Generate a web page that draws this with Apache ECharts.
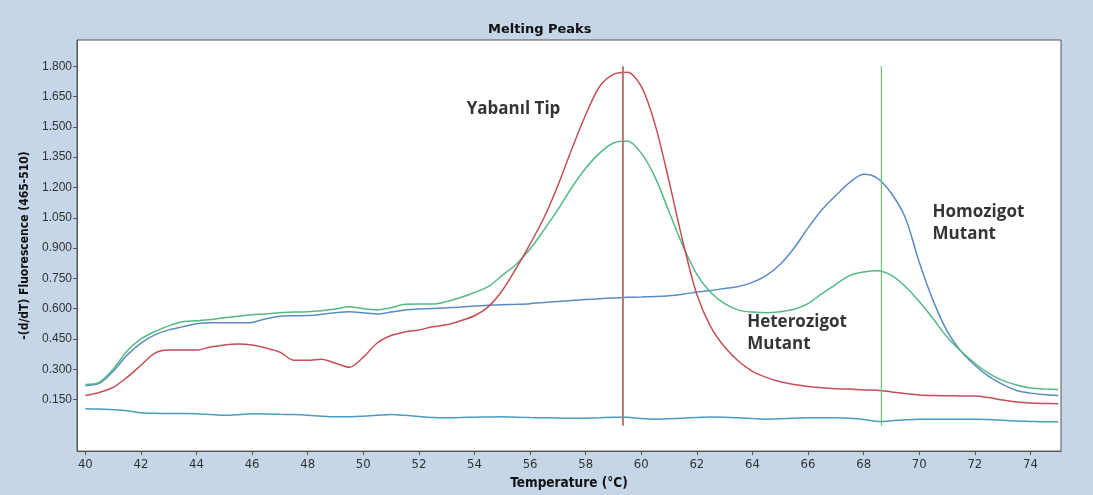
<!DOCTYPE html>
<html>
<head>
<meta charset="utf-8">
<script src="https://cdn.jsdelivr.net/npm/echarts@6/dist/echarts.min.js"></script>
<style>
  html, body { margin: 0; padding: 0; background: #c5d6e8; }
  #chart { width: 1093px; height: 495px; }
</style>
</head>
<body>
<div id="chart"></div>
<script>
// temperature (°C)
var temps = [40, 40.5, 41, 41.5, 42, 42.5, 43, 43.5, 44, 44.5, 45, 45.5, 46, 46.5, 47, 47.5, 48, 48.5, 49, 49.5,
  50, 50.5, 51, 51.5, 52, 52.5, 53, 53.5, 54, 54.5, 55, 55.5, 56, 56.5, 57, 57.5, 58, 58.5, 59, 59.5,
  60, 60.5, 61, 61.5, 62, 62.5, 63, 63.5, 64, 64.5, 65, 65.5, 66, 66.5, 67, 67.5, 68, 68.5, 69, 69.5,
  70, 70.5, 71, 71.5, 72, 72.5, 73, 73.5, 74, 74.5, 75];

// -(d/dT) fluorescence
var wildType = [0.17, 0.185, 0.21, 0.26, 0.32, 0.38, 0.395, 0.395, 0.395, 0.41, 0.42, 0.425, 0.42, 0.405, 0.385, 0.345, 0.345, 0.35, 0.33, 0.31,
  0.36, 0.43, 0.467, 0.485, 0.495, 0.51, 0.52, 0.54, 0.565, 0.61, 0.69, 0.80, 0.92, 1.05, 1.21, 1.39, 1.56, 1.70, 1.76, 1.77,
  1.70, 1.51, 1.23, 0.93, 0.67, 0.51, 0.41, 0.34, 0.29, 0.26, 0.238, 0.225, 0.215, 0.208, 0.204, 0.202, 0.198, 0.196, 0.188, 0.18,
  0.173, 0.17, 0.169, 0.168, 0.168, 0.16, 0.148, 0.138, 0.133, 0.131, 0.13];
var hetero = [0.225, 0.235, 0.30, 0.39, 0.45, 0.487, 0.515, 0.535, 0.54, 0.546, 0.555, 0.563, 0.57, 0.575, 0.58, 0.583, 0.585, 0.59, 0.598, 0.61,
  0.60, 0.595, 0.605, 0.622, 0.623, 0.623, 0.635, 0.655, 0.68, 0.71, 0.765, 0.82, 0.895, 0.99, 1.09, 1.20, 1.295, 1.37, 1.42, 1.43,
  1.37, 1.25, 1.08, 0.91, 0.77, 0.68, 0.625, 0.593, 0.583, 0.58, 0.585, 0.597, 0.625, 0.675, 0.72, 0.765, 0.782, 0.788, 0.765, 0.71,
  0.635, 0.55, 0.46, 0.39, 0.33, 0.28, 0.245, 0.222, 0.207, 0.203, 0.2];
var homo = [0.22, 0.23, 0.29, 0.37, 0.43, 0.47, 0.495, 0.51, 0.525, 0.53, 0.53, 0.53, 0.532, 0.55, 0.562, 0.565, 0.566, 0.572, 0.58, 0.585,
  0.58, 0.574, 0.583, 0.594, 0.598, 0.601, 0.604, 0.608, 0.613, 0.617, 0.62, 0.622, 0.625, 0.63, 0.636, 0.641, 0.645, 0.649, 0.653, 0.656,
  0.658, 0.66, 0.664, 0.672, 0.682, 0.69, 0.70, 0.71, 0.73, 0.765, 0.82, 0.90, 1.00, 1.09, 1.16, 1.225, 1.265, 1.245, 1.17, 1.05,
  0.83, 0.64, 0.49, 0.39, 0.32, 0.265, 0.225, 0.195, 0.182, 0.175, 0.17];
var blank = [0.105, 0.103, 0.1, 0.095, 0.085, 0.082, 0.081, 0.081, 0.08, 0.076, 0.072, 0.075, 0.08, 0.079, 0.077, 0.076, 0.073, 0.068, 0.065, 0.065,
  0.068, 0.072, 0.076, 0.072, 0.066, 0.061, 0.06, 0.061, 0.063, 0.064, 0.065, 0.063, 0.061, 0.06, 0.059, 0.057, 0.058, 0.06, 0.063, 0.062,
  0.056, 0.053, 0.055, 0.058, 0.061, 0.064, 0.063, 0.06, 0.056, 0.053, 0.055, 0.058, 0.06, 0.06, 0.06, 0.058, 0.052, 0.042, 0.045, 0.05,
  0.053, 0.053, 0.053, 0.053, 0.053, 0.052, 0.048, 0.044, 0.042, 0.04, 0.04];

// Tm cursor lines
var wildTm = [[59.34, 0.02], [59.34, 1.8]];
var homoTm = [[68.64, 0.02], [68.64, 1.8]];

// tick labels
var xTicks = [40, 42, 44, 46, 48, 50, 52, 54, 56, 58, 60, 62, 64, 66, 68, 70, 72, 74];
var yTicks = [0.15, 0.3, 0.45, 0.6, 0.75, 0.9, 1.05, 1.2, 1.35, 1.5, 1.65, 1.8];

// annotation texts [temp, value, text]
var notes = [
  [53.72, 1.589, 'Yabanıl Tip'],
  [63.81, 0.48, 'Heterozigot\nMutant'],
  [70.48, 1.022, 'Homozigot\nMutant']
];

function pairs(vals) {
  return temps.map(function (t, i) { return [t, vals[i]]; });
}

var condensed = '"DejaVu Sans Condensed", "Liberation Sans", sans-serif';

var chart = echarts.init(document.getElementById('chart'));
chart.setOption({
  animation: false,
  backgroundColor: '#c5d6e8',
  title: {
    text: 'Melting Peaks',
    left: 483,
    top: 18,
    textStyle: { fontFamily: '"DejaVu Sans", sans-serif', fontWeight: 'bold', fontSize: 13, color: '#111' }
  },
  grid: {
    left: 77, right: 32, top: 40, bottom: 42,
    show: true, backgroundColor: '#fff', borderColor: '#555', borderWidth: 1
  },
  xAxis: {
    type: 'value',
    min: 39.7, max: 75.1,
    name: 'Temperature (°C)',
    nameLocation: 'middle',
    nameGap: 22,
    nameTextStyle: { fontFamily: condensed, fontWeight: 'bold', fontSize: 13.5, color: '#111' },
    axisLine: { show: true, onZero: false, lineStyle: { color: '#555' } },
    axisTick: { show: true, length: 4, customValues: xTicks, lineStyle: { color: '#555' } },
    axisLabel: { customValues: xTicks, fontFamily: condensed, fontSize: 13, color: '#333', margin: 7 },
    splitLine: { show: false }
  },
  yAxis: {
    type: 'value',
    min: -0.105, max: 1.93,
    name: '-(d/dT) Fluorescence (465-510)',
    nameLocation: 'middle',
    nameGap: 41,
    nameRotate: 90,
    nameTextStyle: { fontFamily: condensed, fontWeight: 'bold', fontSize: 12, color: '#111' },
    axisLine: { show: true, onZero: false, lineStyle: { color: '#555' } },
    axisTick: { show: true, length: 4, customValues: yTicks, lineStyle: { color: '#555' } },
    axisLabel: {
      customValues: yTicks,
      fontFamily: '"Liberation Sans", Arial, sans-serif', fontSize: 12, color: '#333', margin: 5,
      formatter: function (v) { return v.toFixed(3); }
    },
    splitLine: { show: false }
  },
  series: [
    { type: 'line', data: pairs(blank), smooth: 0.3, symbol: 'none', lineStyle: { color: '#4a9cc4', width: 1.5 } },
    { type: 'line', data: pairs(homo), smooth: 0.3, symbol: 'none', lineStyle: { color: '#5a8cc2', width: 1.5 } },
    { type: 'line', data: pairs(hetero), smooth: 0.3, symbol: 'none', lineStyle: { color: '#55b887', width: 1.5 } },
    { type: 'line', data: pairs(wildType), smooth: 0.3, symbol: 'none', lineStyle: { color: '#c64f55', width: 1.5 } },
    { type: 'line', data: wildTm, symbol: 'none', lineStyle: { color: '#b07a72', width: 2 } },
    { type: 'line', data: homoTm, symbol: 'none', lineStyle: { color: '#6cc46c', width: 1.2 } },
    {
      type: 'scatter',
      data: notes,
      symbolSize: 0,
      label: {
        show: true,
        position: 'right',
        distance: 0,
        formatter: function (p) { return p.data[2]; },
        fontFamily: '"Open Sans", Lato, sans-serif',
        fontWeight: 'bold',
        fontSize: 17,
        lineHeight: 22,
        color: '#000'
      }
    }
  ]
});
</script>
</body>
</html>
